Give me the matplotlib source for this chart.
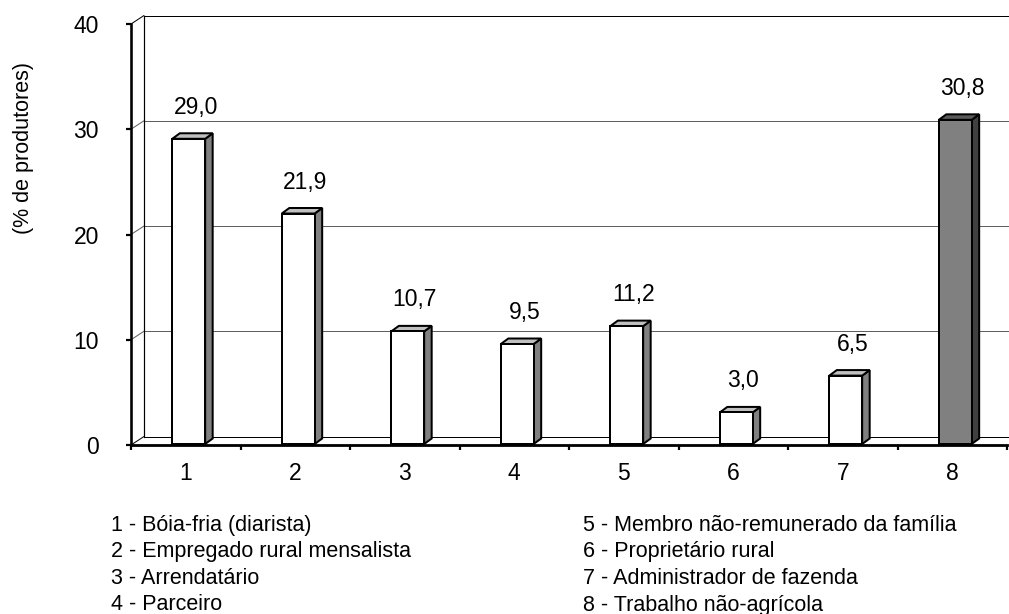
import matplotlib
matplotlib.use("Agg")
import matplotlib.pyplot as plt
import numpy as np
from matplotlib.patches import Polygon
from matplotlib.transforms import ScaledTranslation, IdentityTransform

plt.rcParams["font.family"] = ["Liberation Sans", "DejaVu Sans"]

# ---- data -------------------------------------------------------------
categories = ["1", "2", "3", "4", "5", "6", "7", "8"]
values = [29.0, 21.9, 10.7, 9.5, 11.2, 3.0, 6.5, 30.8]
y_ticks = [0, 10, 20, 30, 40]
legend_left = [
    "1 - Bóia-fria (diarista)",
    "2 - Empregado rural mensalista",
    "3 - Arrendatário",
    "4 - Parceiro",
]
legend_right = [
    "5 - Membro não-remunerado da família",
    "6 - Proprietário rural",
    "7 - Administrador de fazenda",
    "8 - Trabalho não-agrícola",
]
y_label = "(% de produtores)"

# ---- styling ----------------------------------------------------------
W, H, DPI = 1009, 614, 100
FS = 15.5          # key and axis title
FS_NUM = 16.5      # numbers (ticks and value labels)
PX = 72 / DPI                     # points per pixel
WALL = np.array([13.0, 8.5])      # depth of the back wall (px)
BAR_FRONT = np.array([3.0, 1.0])  # bar front face offset (px)
BAR_DEPTH = np.array([7.5, 5.5])  # bar depth (px)
BAR_W = 0.30
GRID_C = "#5f5f5f"
EDGE = 2.0 * PX

face = ["white"] * 7 + ["#808080"]
side = ["#808080"] * 7 + ["#404040"]
top = ["#c0c0c0"] * 7 + ["#5a5a5a"]

fig = plt.figure(figsize=(W / DPI, H / DPI), dpi=DPI)
ax = fig.add_axes([131 / W, (H - 445) / H, 876 / W, 421 / H])
ax.set_xlim(0.5, 8.5)
ax.set_ylim(0, 40)
ax.set_facecolor("none")

x = np.arange(1, len(values) + 1)


def shifted(offset):
    return ax.transData + ScaledTranslation(offset[0] / DPI, offset[1] / DPI,
                                            fig.dpi_scale_trans)


def disp(point, offset):
    return ax.transData.transform(point) + offset


wall_t = shifted(WALL)

# back wall: gridlines, top edge, floor edge and left edge
for v in y_ticks:
    col = "black" if v in (0, 40) else GRID_C
    ax.plot([0.5, 9.0], [v, v], transform=wall_t, color=col, lw=1.0 * PX,
            clip_on=False, zorder=1)
    ax.annotate("", xy=(0.5, v), xycoords="data",
                xytext=(WALL[0], WALL[1]), textcoords="offset pixels",
                arrowprops=dict(arrowstyle="-", color=col, lw=1.0 * PX,
                                shrinkA=0, shrinkB=0),
                zorder=1, annotation_clip=False)
ax.plot([0.5, 0.5], [0, 40], transform=wall_t, color="black", lw=1.2 * PX,
        clip_on=False, zorder=1)

# bars: side and top faces, then the front face
for i, (xi, v) in enumerate(zip(x, values)):
    x0, x1 = xi - BAR_W / 2, xi + BAR_W / 2
    f = BAR_FRONT
    b = BAR_FRONT + BAR_DEPTH
    side_pts = [disp((x1, 0), f), disp((x1, v), f), disp((x1, v), b), disp((x1, 0), b)]
    top_pts = [disp((x0, v), f), disp((x1, v), f), disp((x1, v), b), disp((x0, v), b)]
    for pts, col in ((side_pts, side[i]), (top_pts, top[i])):
        ax.add_patch(Polygon(pts, closed=True, facecolor=col, edgecolor="black",
                             lw=EDGE, transform=IdentityTransform(),
                             clip_on=False, zorder=3, joinstyle="miter"))

ax.bar(x, values, width=BAR_W, color=face, edgecolor="black", linewidth=EDGE,
       transform=shifted(BAR_FRONT), zorder=4, clip_on=False)

# value labels
for xi, v in zip(x, values):
    ax.annotate(f"{v:.1f}".replace(".", ","), xy=(xi, v), xycoords="data",
                xytext=(BAR_FRONT[0] + 7, BAR_FRONT[1] + 25),
                textcoords="offset pixels", ha="center", va="baseline",
                fontsize=FS_NUM, zorder=5, annotation_clip=False)

# axes frame
for s in ("top", "right"):
    ax.spines[s].set_visible(False)
ax.spines["left"].set_linewidth(2.6 * PX)
ax.spines["bottom"].set_linewidth(2.8 * PX)
ax.spines["left"].set_zorder(6)
ax.spines["bottom"].set_zorder(6)

ax.set_yticks(y_ticks)
ax.set_yticklabels([str(t) for t in y_ticks])
ax.tick_params(axis="y", direction="out", length=5 * PX, width=2.2 * PX,
               pad=27 * PX, labelsize=FS_NUM)

ax.set_xticks(np.arange(0.5, len(values) + 1, 1.0))
ax.set_xticklabels([])
ax.set_xticks(x, minor=True)
ax.set_xticklabels(categories, minor=True)
ax.tick_params(axis="x", which="major", direction="out", length=5 * PX,
               width=2.2 * PX)
ax.tick_params(axis="x", which="minor", length=0, pad=17 * PX, labelsize=FS_NUM)

fig.text(24 / W, 1 - 148 / H, y_label, rotation=90, ha="center", va="center",
         fontsize=FS)

# category key below the chart
line_gap = 26.5
for j, (l, r) in enumerate(zip(legend_left, legend_right)):
    yb = 1 - (531.0 + j * line_gap) / H
    fig.text(111 / W, yb, l, ha="left", va="baseline", fontsize=FS)
    fig.text(583 / W, yb, r, ha="left", va="baseline", fontsize=FS)

fig.savefig("out.png", dpi=DPI)
